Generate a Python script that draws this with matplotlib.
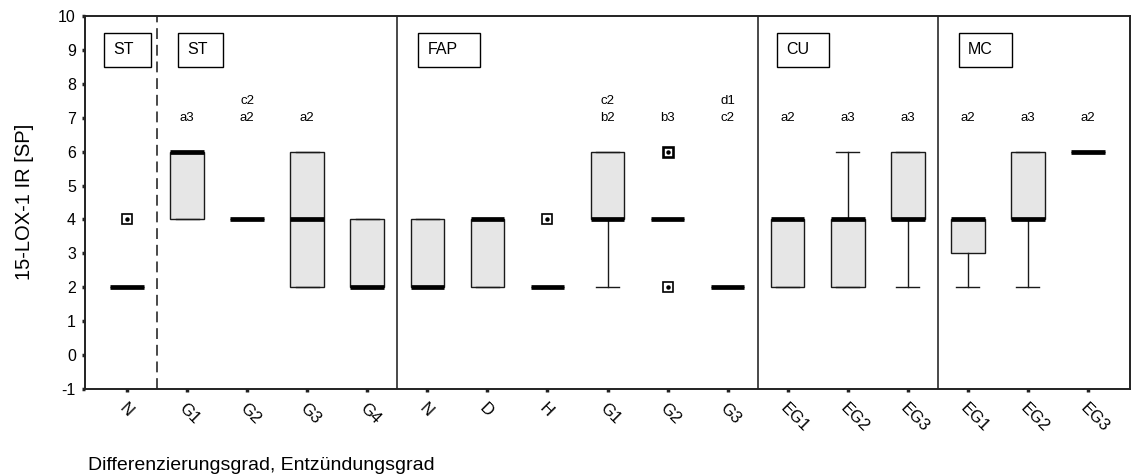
#!/usr/bin/env python3
# boxplots of 15-LOX-1 immunoreactivity per tissue group and grade
from collections import Counter

import matplotlib
matplotlib.use("Agg")
import matplotlib.pyplot as plt
from matplotlib.patches import Rectangle

plt.rcParams["font.family"] = ["Liberation Sans", "DejaVu Sans"]
plt.rcParams["axes.unicode_minus"] = False

# categories along the x axis
categories = ["N", "G1", "G2", "G3", "G4",
              "N", "D", "H", "G1", "G2", "G3",
              "EG1", "EG2", "EG3",
              "EG1", "EG2", "EG3"]

# box statistics per category
q1 = [2, 4, 4, 2, 2, 2, 2, 2, 4, 4, 2, 2, 2, 4, 3, 4, 6]
median = [2, 6, 4, 4, 2, 2, 4, 2, 4, 4, 2, 4, 4, 4, 4, 4, 6]
q3 = [2, 6, 4, 6, 4, 4, 4, 2, 6, 4, 2, 4, 4, 6, 4, 6, 6]
whisker_low = [2, 4, 4, 2, 2, 2, 2, 2, 2, 4, 2, 2, 2, 2, 2, 2, 6]
whisker_high = [2, 6, 4, 6, 4, 4, 4, 2, 6, 4, 2, 4, 6, 6, 4, 6, 6]
# outlying cases (repeated values = several cases on one spot)
outliers = [[4], [], [], [], [], [], [], [4], [], [6, 6, 2], [], [], [], [], [], [], []]

# significance letters, from bottom to top
letters = [[], ["a3"], ["a2", "c2"], ["a2"], [], [], [], [], ["b2", "c2"], ["b3"],
           ["c2", "d1"], ["a2"], ["a3"], ["a3"], ["a2"], ["a3"], ["a2"]]

# tissue groups
group_names = ["ST", "ST", "FAP", "CU", "MC"]

# layout of the group label boxes (left edge, width) in x units
group_box_x = [0.62, 1.85, 5.85, 11.83, 14.85]
group_box_w = [0.78, 0.75, 1.03, 0.85, 0.88]
# group separators: (x, linestyle)
separators = [(1.5, (0, (6.5, 3.5))), (5.5, "-"), (11.5, "-"), (14.5, "-")]

positions = list(range(1, len(categories) + 1))

stats = []
for i in range(len(categories)):
    stats.append({
        "med": median[i], "q1": q1[i], "q3": q3[i],
        "whislo": whisker_low[i], "whishi": whisker_high[i],
        "fliers": [],
    })

fig = plt.figure(figsize=(11.31, 4.74), dpi=100)
ax = fig.add_axes([85 / 1131, 85 / 474, 1045 / 1131, 373 / 474])

edge = "#1a1a1a"
ax.bxp(stats, positions=positions, widths=0.56, capwidths=0.38,
       patch_artist=True, showfliers=False,
       boxprops=dict(facecolor="#e6e6e6", edgecolor=edge, linewidth=1.0),
       whiskerprops=dict(color=edge, linewidth=1.0),
       capprops=dict(color=edge, linewidth=1.0),
       medianprops=dict(color="black", linewidth=3.4, solid_capstyle="butt"))

# outliers: square with a dot, heavier edge when cases coincide
for pos, vals in zip(positions, outliers):
    for val, n in Counter(vals).items():
        ax.plot(pos, val, marker="s", ms=7, mfc="white", mec="black",
                mew=1.2 + 0.7 * (n - 1), zorder=4)
        ax.plot(pos, val, marker="o", ms=2.2, color="black", zorder=5)

# significance letters above each box
for pos, labs in zip(positions, letters):
    for k, lab in enumerate(labs):
        ax.text(pos, 7 + 0.5 * k, lab, ha="center", va="center", fontsize=9.5)

# group separators
for x, ls in separators:
    ax.axvline(x, color="#2a2a2a", linewidth=1.2, linestyle=ls)

# group label boxes
for name, x0, w in zip(group_names, group_box_x, group_box_w):
    ax.add_patch(Rectangle((x0, 8.5), w, 1.0, facecolor="white",
                           edgecolor="black", linewidth=1.0, zorder=3))
    ax.text(x0 + 0.15, 9.0, name, ha="left", va="center", fontsize=11.5, zorder=4)

ax.set_xlim(0.3, 17.7)
ax.set_ylim(-1, 10)
ax.set_yticks(range(-1, 11))
ax.set_xticks(positions)
ax.set_xticklabels(categories, rotation=-45, ha="left", va="top",
                   rotation_mode="anchor", fontsize=12)
ax.tick_params(axis="both", length=2.5, width=2.5, color="#222222")
ax.tick_params(axis="y", labelsize=11.5, pad=4)
ax.tick_params(axis="x", pad=6)
for spine in ax.spines.values():
    spine.set_linewidth(1.4)
    spine.set_color("#222222")

fig.text(25 / 1131, 0.574, "15-LOX-1 IR [SP]", rotation=90,
         ha="center", va="center", fontsize=14.5)
fig.text(88 / 1131, 0.009, "Differenzierungsgrad, Entzündungsgrad",
         ha="left", va="baseline", fontsize=14)

fig.savefig("out.png", dpi=100)
plt.close(fig)
